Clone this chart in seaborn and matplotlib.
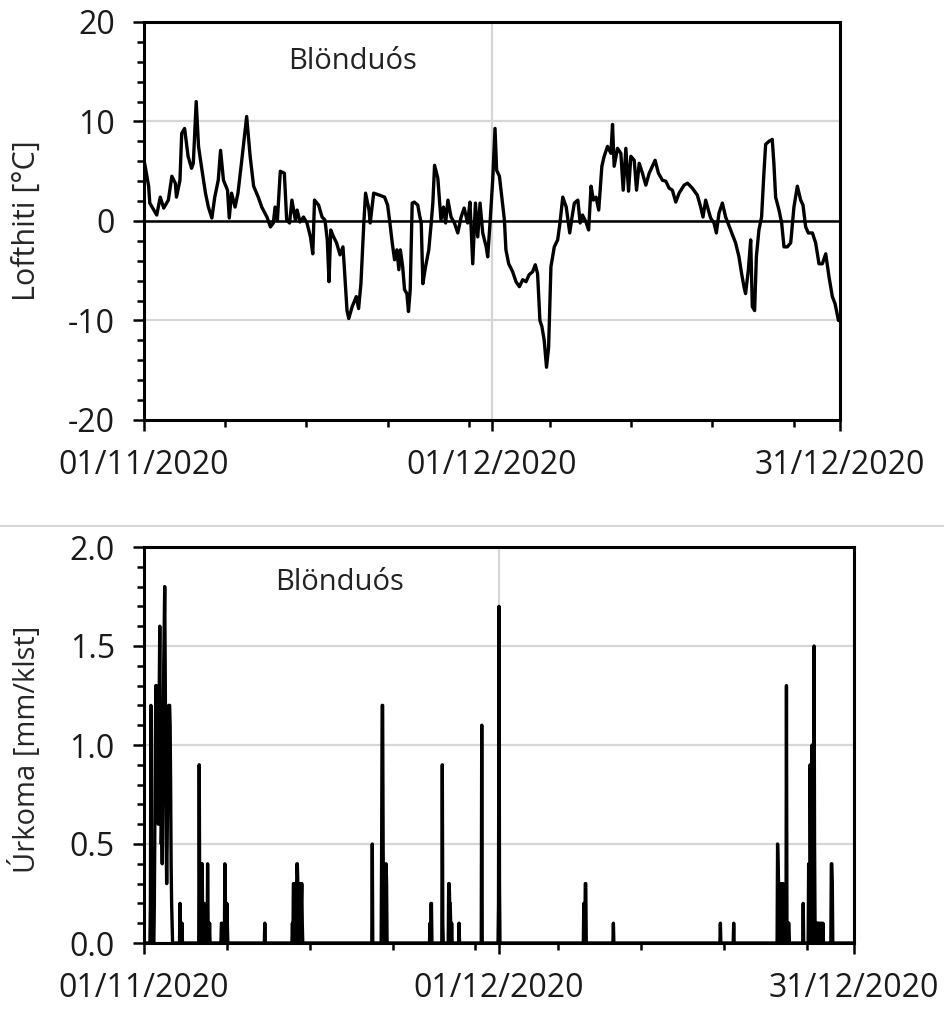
import matplotlib
matplotlib.use("Agg")
import matplotlib.pyplot as plt
import matplotlib.dates as mdates
from matplotlib.lines import Line2D
from matplotlib.ticker import MultipleLocator, FormatStrFormatter
import numpy as np
import pandas as pd
import seaborn as sns

sns.set_theme(style="white")
plt.rcParams["font.family"] = ["Open Sans", "DejaVu Sans"]
plt.rcParams["axes.unicode_minus"] = False

station = "Blönduós"
start = pd.Timestamp("2020-11-01")
end = pd.Timestamp("2020-12-31")
date_ticks = ["2020-11-01", "2020-12-01", "2020-12-31"]

# lofthiti (days since 01/11/2020, deg C)
temp_day = [
    0.05, 0.1, 0.4, 0.5, 0.95, 1.1, 1.4, 1.7, 2.1, 2.4, 2.7, 2.8, 3.1, 3.25, 3.5,
    3.8, 4.1, 4.25, 4.5, 4.7, 5.0, 5.3, 5.55, 5.85, 6.1, 6.4, 6.6, 6.85, 7.2,
    7.35, 7.55, 7.85, 8.1, 8.4, 8.85, 9.15, 9.45, 9.85, 10.15, 10.6, 10.9,
    11.15, 11.3, 11.5, 11.75, 12.1, 12.3, 12.55, 12.75, 13.05, 13.2, 13.45,
    13.75, 14.05, 14.35, 14.55, 14.7, 15.05, 15.35, 15.6, 15.8, 15.95, 16.1,
    16.35, 16.6, 16.9, 17.15, 17.25, 17.5, 17.65, 17.95, 18.3, 18.5, 18.7,
    18.95, 19.1, 19.4, 19.5, 19.8, 20.3, 20.74, 21.0, 21.2, 21.4, 21.6, 21.8,
    21.97, 22.1, 22.3, 22.46, 22.66, 22.8, 22.95, 23.12, 23.3, 23.6, 23.75,
    23.9, 24.04, 24.27, 24.55, 24.76, 24.9, 25.05, 25.33, 25.6, 25.82, 26.0,
    26.2, 26.47, 26.76, 27.05, 27.34, 27.6, 27.9, 28.1, 28.34, 28.57, 28.77,
    28.97, 29.2, 29.5, 29.63, 29.83, 30.06, 30.26, 30.4, 30.64, 30.87, 31.07,
    31.2, 31.44, 31.78, 32.07, 32.36, 32.65, 32.93, 33.2, 33.5, 33.73, 33.93,
    34.13, 34.3, 34.5, 34.7, 34.88, 35.08, 35.37, 35.66, 35.86, 36.1, 36.4,
    36.7, 36.9, 37.1, 37.4, 37.6, 37.8, 38.1, 38.33, 38.54, 38.74, 38.97,
    39.2, 39.47, 39.67, 39.96, 40.25, 40.39, 40.53, 40.82, 41.11, 41.31,
    41.54, 41.77, 41.97, 42.26, 42.46, 42.69, 42.97, 43.26, 43.55, 43.83,
    44.06, 44.35, 44.69, 44.98, 45.27, 45.55, 45.84, 46.13, 46.56, 46.85,
    47.27, 47.7, 47.99, 48.19, 48.42, 48.65, 48.85, 49.14, 49.34, 49.57,
    49.86, 50.14, 50.57, 51.0, 51.29, 51.52, 51.72, 51.86, 52.1, 52.3, 52.44,
    52.64, 52.79, 53.01, 53.24, 53.44, 53.59, 53.87, 54.16, 54.3, 54.45,
    54.74, 54.97, 55.17, 55.46, 55.75, 56.03, 56.32, 56.61, 56.81, 57.04,
    57.27, 57.62, 57.9, 58.19, 58.48, 58.77, 59.05, 59.34, 59.57, 59.87,
]
temp_c = [
    5.8, 5.5, 3.5, 1.8, 0.9, 0.6, 2.4, 1.3, 2.1, 4.5, 3.8, 2.4, 4.1, 8.8, 9.3,
    6.5, 5.3, 5.8, 12.0, 7.5, 5.1, 2.8, 1.4, 0.3, 2.4, 4.1, 7.1, 4.1, 3.1,
    0.3, 2.8, 1.4, 2.8, 5.8, 10.5, 6.5, 3.5, 2.4, 1.4, 0.4, -0.6,
    -0.2, 1.4, 0.1, 5.0, 4.8, 0.1, -0.2, 2.1, 0.1, 1.1, -0.1,
    0.4, -0.2, -1.6, -3.3, 2.1, 1.6, 0.4, 0.1, -1.9, -6.1, -0.9,
    -1.6, -2.2, -3.4, -2.6, -4.3, -9.0, -9.8, -8.6, -7.6, -8.8, -6.3,
    -0.2, 2.8, 1.1, -0.2, 2.8, 2.6, 2.4, 1.6, -0.2, -2.2, -3.9, -2.9,
    -4.9, -2.9, -4.6, -6.9, -7.3, -9.1, -6.9, 1.8, 1.9, 1.6, 0.6,
    -0.2, -6.3, -4.6, -2.9, -0.2, 1.8, 5.6, 4.3, 0.1, 1.4, -0.2,
    2.1, 0.4, -0.2, -1.2, 0.4, 1.3, -0.2, 1.9, -4.3, 1.8, -1.6,
    1.8, -1.2, -2.6, -3.6, -0.2, 4.1, 9.3, 5.1, 4.5, 2.1, 0.1,
    -2.9, -4.3, -5.1, -6.1, -6.6, -5.9, -6.1, -5.4, -5.1, -4.4, -5.3,
    -10.0, -10.6, -12.0, -14.7, -12.7, -4.6, -2.6, -1.9, -0.2, 2.4, 1.4,
    -1.2, 0.4, 1.8, 2.1, -0.2, 0.6, -0.1, -0.9, 3.5, 2.1, 2.4,
    1.1, 5.5, 6.5, 7.5, 6.8, 9.7, 5.5, 7.3, 6.8, 3.1,
    7.3, 3.0, 6.5, 6.1, 3.1, 5.8, 4.8, 3.6, 4.8, 5.5,
    6.1, 4.8, 4.1, 4.0, 3.3, 3.1, 1.9, 2.8, 3.6, 3.8,
    3.3, 2.6, 1.4, 0.4, 2.1, 1.1, 0.3, -0.2, -1.2, 0.8,
    1.8, 0.4, -0.9, -2.2, -3.6, -5.3, -6.6, -7.3, -4.9, -1.9, -8.6,
    -9.0, -3.6, -0.9, 0.4, 4.8, 7.7, 8.0, 8.2, 5.8, 2.4,
    1.1, -0.2, -2.6, -2.6, -2.2, 1.4, 3.5, 2.1, 1.6, -0.6,
    -1.2, -1.2, -2.2, -4.3, -4.3, -3.3, -5.6, -7.6, -8.3, -10.0,
]

# urkoma, hours since 01/11/2020 00:00 with rain (mm/klst); other hours dry
rain_hour = [
    13, 14, 15, 21, 22, 23, 24, 25, 26, 27, 28, 29, 30, 31, 32, 33, 34, 35, 36,
    37, 38, 39, 40, 41, 42, 43, 44, 45, 46, 47, 48, 49, 50, 51, 52, 53, 54, 55,
    56, 57, 73, 74, 77, 112, 113, 116, 117, 118, 119, 122, 126, 129, 130, 133,
    157, 158, 164, 165, 168, 169, 245, 301, 303, 304, 305, 306, 307, 308, 310,
    311, 312, 313, 315, 316, 317, 318, 319, 320, 321, 463, 482, 483, 484, 485,
    486, 487, 491, 492, 580, 582, 583, 605, 606, 618, 619, 620, 621, 622, 624,
    639, 685, 719, 720, 721, 892, 893, 895, 896, 952, 1169, 1196, 1285, 1286,
    1287, 1289, 1290, 1292, 1293, 1295, 1296, 1298, 1303, 1304, 1307, 1308,
    1337, 1348, 1351, 1352, 1355, 1359, 1360, 1361, 1364, 1366, 1368, 1371,
    1374, 1377, 1394, 1395, 1396,
]
rain_mm = [
    0.2, 1.2, 0.1, 0.2, 0.6, 1.0, 1.3, 1.3, 0.8, 0.9, 1.1, 0.6, 1.0, 1.3, 1.6,
    1.0, 0.7, 0.5, 0.6, 0.4, 0.8, 1.1, 1.4, 1.6, 1.8, 1.4, 0.9, 0.5, 0.3, 0.5,
    0.8, 1.0, 1.2, 1.2, 1.2, 1.1, 0.8, 0.4, 0.2, 0.1, 0.2, 0.1, 0.1, 0.9, 0.2,
    0.4, 0.3, 0.4, 0.1, 0.2, 0.1, 0.4, 0.1, 0.1, 0.1, 0.1, 0.4, 0.2, 0.2, 0.1,
    0.1, 0.1, 0.3, 0.3, 0.2, 0.3, 0.3, 0.3, 0.4, 0.4, 0.3, 0.3, 0.3, 0.3, 0.3,
    0.3, 0.2, 0.3, 0.1, 0.5, 0.5, 1.2, 1.2, 0.5, 0.1, 0.2, 0.4, 0.3, 0.1, 0.2,
    0.2, 0.9, 0.1, 0.3, 0.3, 0.2, 0.2, 0.1, 0.1, 0.1, 1.1, 0.2, 1.7, 0.3, 0.2,
    0.2, 0.3, 0.3, 0.1, 0.1, 0.1, 0.5, 0.4, 0.3, 0.3, 0.3, 0.3, 0.2, 0.3, 0.3,
    0.1, 1.3, 0.1, 0.1, 0.1, 0.2, 0.4, 0.9, 0.4, 1.0, 1.5, 0.5, 0.1, 0.1, 0.1,
    0.1, 0.1, 0.1, 0.1, 0.4, 0.4, 0.3,
]

temp_df = pd.DataFrame({
    "time": start + pd.to_timedelta(temp_day, unit="D"),
    "temp": temp_c,
})

hours = pd.date_range(start, end, freq="h")
rain = pd.Series(rain_mm, index=start + pd.to_timedelta(rain_hour, unit="h"))
rain_df = rain.reindex(hours, fill_value=0.0).rename("rain").reset_index()
rain_df.columns = ["time", "rain"]

fig = plt.figure(figsize=(9.44, 10.10), dpi=100)
ax1 = fig.add_axes([144 / 944, 1 - 420 / 1010, 696 / 944, 398 / 1010])
ax2 = fig.add_axes([144 / 944, 1 - 943 / 1010, 710 / 944, 396 / 1010])

grid_col = "#d6d6d6"
fs = 23

sns.lineplot(data=temp_df, x="time", y="temp", color="black", linewidth=2.4, ax=ax1)
ax1.axhline(0, color="black", linewidth=1.8, zorder=3)
ax1.set_ylim(-20, 20)
ax1.yaxis.set_major_locator(MultipleLocator(10))
ax1.yaxis.set_minor_locator(MultipleLocator(2))
ax1.set_ylabel("Lofthiti [°C]", fontsize=22)
ax1.yaxis.set_label_coords(-0.147, 0.5)
ax1.text(0.30, 0.9, station, transform=ax1.transAxes, fontsize=21,
         ha="center", va="center", color="#222222")

sns.lineplot(data=rain_df, x="time", y="rain", color="black", linewidth=2.4, ax=ax2)
ax2.set_ylim(0, 2.0)
ax2.yaxis.set_major_locator(MultipleLocator(0.5))
ax2.yaxis.set_minor_locator(MultipleLocator(0.1))
ax2.yaxis.set_major_formatter(FormatStrFormatter("%.1f"))
ax2.set_ylabel("Úrkoma [mm/klst]", fontsize=21)
ax2.yaxis.set_label_coords(-0.144, 0.49)
ax2.text(0.276, 0.91, station, transform=ax2.transAxes, fontsize=21,
         ha="center", va="center", color="#222222")

for ax in (ax1, ax2):
    ax.set_xlim(start, end)
    ax.set_xticks(pd.to_datetime(date_ticks))
    ax.set_xticks(pd.date_range(start, end, freq="7D"), minor=True)
    ax.xaxis.set_major_formatter(mdates.DateFormatter("%d/%m/%Y"))
    ax.set_xlabel("")
    ax.grid(True, which="major", color=grid_col, linewidth=1.6, zorder=0)
    ax.set_axisbelow(True)
    for s in ax.spines.values():
        s.set_color("black")
        s.set_linewidth(2.2)
        s.set_zorder(4)
    ax.tick_params(which="major", direction="out", length=8, width=1.8,
                   labelsize=fs, pad=13, color="black", labelcolor="#1a1a1a")
    ax.tick_params(which="minor", direction="out", length=5, width=1.8,
                   color="black", bottom=True, left=True)
    ax.tick_params(axis="x", which="both", bottom=True)
    ax.tick_params(axis="y", which="both", left=True)

fig.add_artist(Line2D([0, 1], [1 - 526 / 1010, 1 - 526 / 1010],
                      color="#cfcfcf", linewidth=1.2))

plt.savefig("out.png", dpi=100)
